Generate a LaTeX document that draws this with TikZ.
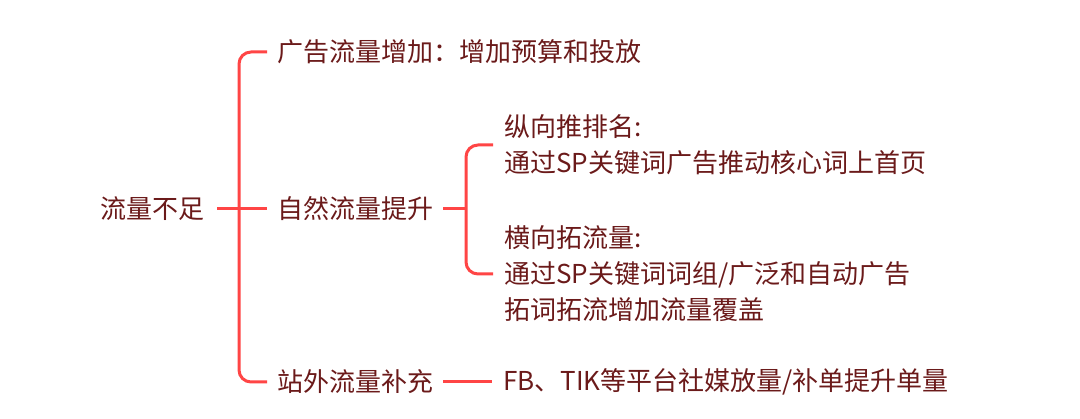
\documentclass[tikz,border=0pt]{standalone}
\usepackage{fontspec}
\setmainfont{Noto Sans CJK SC}
\definecolor{txt}{HTML}{6B1A1A}
\definecolor{ln}{HTML}{FF4545}
\begin{document}
\begin{tikzpicture}[x=1pt,y=-1pt,
  lbl/.style={anchor=west,inner sep=0pt,text=txt,align=left,font=\fontsize{26}{36}\selectfont},
  conn/.style={draw=ln,line width=3pt,rounded corners=12pt}]
\useasboundingbox (0,0) rectangle (1080,419);
\fill[white] (0,0) rectangle (1080,419);
\node[lbl] (root) at (100,209) {流量不足};
\node[lbl] (a1) at (277,52) {广告流量增加：增加预算和投放};
\node[lbl] (a2) at (277,209) {自然流量提升};
\node[lbl] (a3) at (277,382) {站外流量补充};
\node[lbl] (b1) at (504,145) {纵向推排名:\\通过SP关键词广告推动核心词上首页};
\node[lbl] (b2) at (504,274) {横向拓流量:\\通过SP关键词词组/广泛和自动广告\\拓词拓流增加流量覆盖};
\node[lbl] (c1) at (503,382) {FB、TIK等平台社媒放量/补单提升单量};
\coordinate (s1) at (239,209);
\coordinate (s2) at (466,209);
\draw[conn] ([xshift=13pt]root.east) -- ([xshift=-10pt]a2.west);
\draw[conn] ([xshift=-10pt]a1.west) -| (s1) |- ([xshift=-10pt]a3.west);
\draw[conn] ([xshift=10pt]a2.east) -- (s2);
\draw[conn] ([xshift=-11pt]b1.west) -| (s2) |- ([xshift=-11pt]b2.west);
\draw[conn] ([xshift=10pt]a3.east) -- ([xshift=-11pt]c1.west);
\end{tikzpicture}
\end{document}
